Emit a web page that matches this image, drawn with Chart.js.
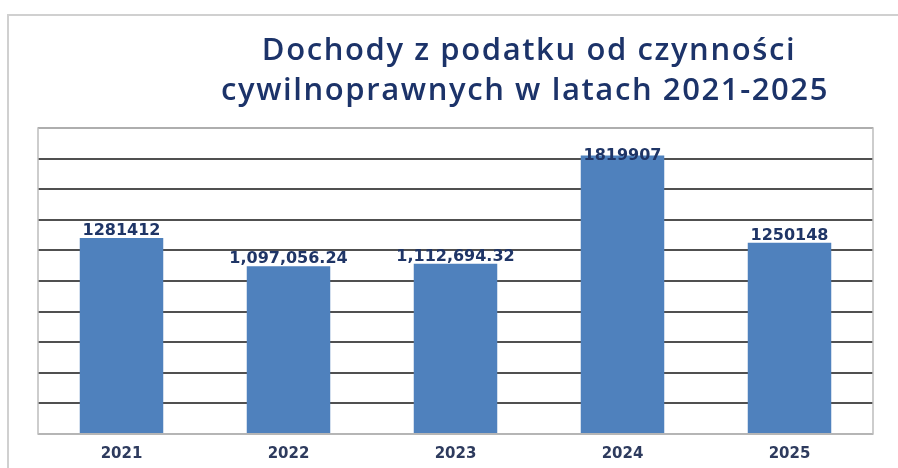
<!DOCTYPE html>
<html>
<head>
<meta charset="utf-8">
<script src="https://cdn.jsdelivr.net/npm/chart.js@4"></script>
<style>
    html, body { margin: 0; padding: 0; background: #ffffff; }
    #wrap { width: 898px; height: 468px; position: relative; }
</style>
</head>
<body>
<div id="wrap"><canvas id="chart" width="898" height="468"></canvas></div>
<script>
// dane z wykresu
const years = ['2021', '2022', '2023', '2024', '2025'];
const income = [1281412, 1097056.24, 1112694.32, 1819907, 1250148];
const incomeLabels = ['1281412', '1,097,056.24', '1,112,694.32', '1819907', '1250148'];
const titleLines = ['Dochody z podatku od czynności', 'cywilnoprawnych w latach 2021-2025'];
const yMax = 2000000;
const yStep = 200000;

// ramka, tytuł i podpisy słupków
const decorPlugin = {
    id: 'decor',
    beforeDraw(chart) {
        const ctx = chart.ctx;
        ctx.save();
        ctx.strokeStyle = '#d0d0d0';
        ctx.lineWidth = 2;
        ctx.strokeRect(8, 15, 900, 470);
        ctx.fillStyle = '#1c3369';
        ctx.font = '600 31px "Open Sans"';
        ctx.letterSpacing = '1.6px';
        ctx.textAlign = 'center';
        ctx.textBaseline = 'alphabetic';
        ctx.fillText(titleLines[0], 529, 60);
        ctx.fillText(titleLines[1], 525, 100);
        ctx.restore();
    },
    afterDatasetsDraw(chart) {
        const ctx = chart.ctx;
        const area = chart.chartArea;
        const meta = chart.getDatasetMeta(0);
        ctx.save();
        ctx.strokeStyle = '#bdbdbd';
        ctx.lineWidth = 1.5;
        ctx.strokeRect(area.left, area.top, area.right - area.left, area.bottom - area.top);
        ctx.fillStyle = '#1f3566';
        ctx.font = 'bold 16px "DejaVu Sans"';
        ctx.textAlign = 'center';
        ctx.textBaseline = 'alphabetic';
        meta.data.forEach(function (bar, i) {
            let y = Math.max(bar.y - 3, area.top + 32);
            ctx.fillText(incomeLabels[i], bar.x, y);
        });
        ctx.restore();
    }
};

var chart = new Chart(document.getElementById('chart').getContext('2d'), {
    type: 'bar',
    data: {
        labels: years,
        datasets: [{
            data: income,
            backgroundColor: '#4f81bd',
            borderWidth: 0,
            categoryPercentage: 1,
            barPercentage: 0.5
        }]
    },
    options: {
        responsive: false,
        animation: false,
        layout: {
            padding: { left: 38, right: 25, top: 128, bottom: 0 }
        },
        plugins: {
            legend: { display: false },
            title: { display: false },
            tooltip: { enabled: false }
        },
        scales: {
            x: {
                grid: { display: false, drawTicks: false },
                border: { display: false },
                ticks: {
                    padding: 11,
                    color: '#2e3b5e',
                    font: { family: "'DejaVu Sans'", size: 15, weight: 'bold' }
                },
                afterFit: function (s) { s.height = 34; }
            },
            y: {
                min: 0,
                max: yMax,
                ticks: { display: false, stepSize: yStep },
                border: { display: false },
                grid: {
                    drawTicks: false,
                    lineWidth: 2,
                    color: function (c) {
                        if (c.tick && c.tick.value === 0) return '#a0a0a0';
                        if (c.tick && c.tick.value === yMax) return '#808080';
                        return '#505050';
                    }
                },
                afterFit: function (s) { s.width = 0; }
            }
        }
    },
    plugins: [decorPlugin]
});
</script>
</body>
</html>
